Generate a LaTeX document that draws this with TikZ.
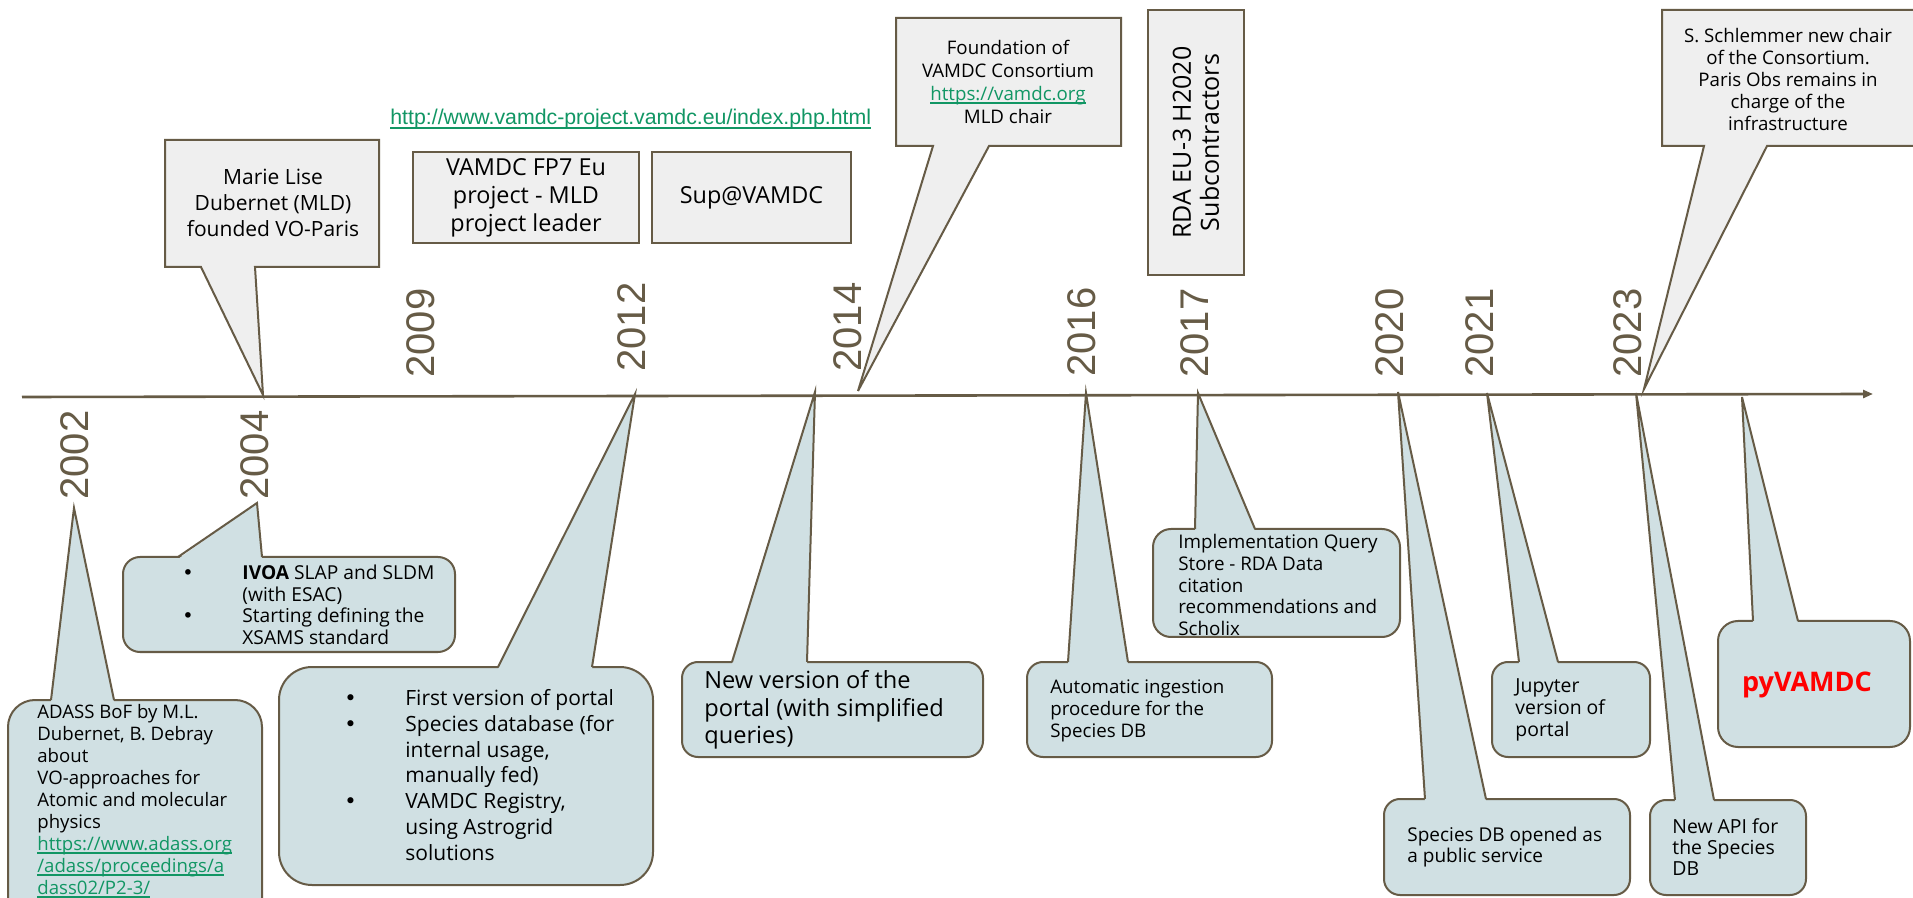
\documentclass[tikz,border=0pt]{standalone}
\usepackage{fontspec}
\setmainfont{Open Sans}
\newfontfamily\arialfont{Liberation Sans}
\newfontfamily\dejafont{DejaVu Sans}
\usetikzlibrary{arrows.meta}

\definecolor{tlbrown}{RGB}{102,91,70}
\definecolor{topgrey}{RGB}{239,239,239}
\definecolor{lowblue}{RGB}{208,224,227}
\definecolor{linkgreen}{RGB}{17,150,100}

\tikzset{
  topbox/.style={draw=tlbrown, fill=topgrey, line width=1pt},
  lowbox/.style={draw=tlbrown, fill=lowblue, line width=1pt},
  yearlabel/.style={font=\arialfont\fontsize{20}{24}\selectfont, text=tlbrown,
    rotate=90, anchor=west, inner sep=0pt},
  boxtext/.style={align=center, inner sep=0pt},
  notetext/.style={align=left, anchor=west, inner sep=0pt},
}

% grey box with its pointer hanging down to the axis
\newcommand{\downcall}[7]{%
  \filldraw[topbox] (#1,#2) -- (#3,#2) -- (#3,#4) -- (#6,#4) -- (#7) -- (#5,#4) -- (#1,#4) -- cycle;}
% rounded blue box with its pointer going up to the axis
\newcommand{\upcall}[8][8pt]{%
  \filldraw[lowbox, rounded corners=#1] (#2,#3) rectangle (#4,#5);
  \fill[lowblue] (#6,#3+2) -- (#8) -- (#7,#3+2) -- cycle;
  \draw[tlbrown, line width=1pt] (#6,#3) -- (#8) -- (#7,#3);}
\newcommand{\lnk}[1]{{\color{linkgreen}\setbox0=\hbox{#1}\rlap{\rule[-0.17em]{\wd0}{0.08em}}\box0}}
\newcommand{\bul}[1]{\makebox[#1][l]{\dejafont\textbullet}}

\begin{document}
\begin{tikzpicture}[x=0.5pt, y=-0.5pt]

  \fill[white, use as bounding box] (0,0) rectangle (1913,898);
  \clip (0,0) rectangle (1913,898);

  % time axis
  \coordinate (axstart) at (22,397);
  \coordinate (axend) at (1873,394);
  \draw[tlbrown, line width=1.3pt, -{Triangle[length=5pt,width=4pt]}] (axstart) -- (axend);

  % pointer tips on the axis
  \coordinate (t02) at (74,508);
  \coordinate (t04lo) at (257,503);
  \coordinate (t04up) at (263,395);
  \coordinate (t12) at (635,394);
  \coordinate (t14lo) at (815,392);
  \coordinate (t14up) at (858,391);
  \coordinate (t16) at (1086,393);
  \coordinate (t17) at (1198,393);
  \coordinate (t20) at (1398,392);
  \coordinate (t21) at (1487,393);
  \coordinate (t23up) at (1644,389);
  \coordinate (t23lo) at (1636,393);
  \coordinate (tpy) at (1742,397);

  % years
  \node[yearlabel] (y2002) at (75,500) {2002};
  \node[yearlabel] (y2004) at (255,500) {2004};
  \node[yearlabel] (y2009) at (421,378) {2009};
  \node[yearlabel] (y2012) at (632,372) {2012};
  \node[yearlabel] (y2014) at (848,372) {2014};
  \node[yearlabel] (y2016) at (1082,377) {2016};
  \node[yearlabel] (y2017) at (1195,378) {2017};
  \node[yearlabel] (y2020) at (1390,378) {2020};
  \node[yearlabel] (y2021) at (1480,378) {2021};
  \node[yearlabel] (y2023) at (1628,378) {2023};

  % above the axis
  \downcall{165}{140}{379}{267}{201}{255}{t04up}
  \node[boxtext, font=\fontsize{10.5}{13}\selectfont] (marie) at (273,203)
    {Marie Lise\\ Dubernet (MLD)\\ founded VO-Paris};

  \node[topbox, boxtext, minimum width=113pt, minimum height=45.5pt,
    font=\fontsize{11.7}{14}\selectfont] (fp7) at (526,197.5)
    {VAMDC FP7 Eu\\ project - MLD\\ project leader};
  \node[topbox, boxtext, minimum width=99.5pt, minimum height=45.5pt,
    font=\fontsize{11.7}{14}\selectfont] (sup) at (751.5,197.5) {Sup@VAMDC};
  \node[inner sep=0pt, anchor=base west, font=\arialfont\fontsize{10.65}{12}\selectfont]
    (url) at (390,125) {\lnk{http://www.vamdc-project.vamdc.eu/index.php.html}};

  \downcall{896}{18}{1121}{146}{933}{989}{t14up}
  \node[boxtext, font=\fontsize{9.35}{11.5}\selectfont] (found) at (1008,82)
    {Foundation of\\ VAMDC Consortium\\ \lnk{https://vamdc.org}\\ MLD chair};

  \node[topbox, boxtext, rotate=90, minimum width=132.5pt, minimum height=48pt,
    font=\fontsize{12.5}{14}\selectfont] (rda) at (1196,142.5)
    {RDA EU-3 H2020\\ Subcontractors};

  \downcall{1662}{10}{1925}{146}{1704}{1767}{t23up}
  \node[boxtext, font=\fontsize{9.35}{11}\selectfont] (chair) at (1788,79)
    {S. Schlemmer new chair\\ of the Consortium.\\ Paris Obs remains in\\ charge of the\\ infrastructure};

  % below the axis
  \upcall[13.5pt]{8}{700}{262}{930}{51}{114}{t02}
  \node[notetext, font=\fontsize{9.3}{11}\selectfont] (adass) at (37,801)
    {ADASS BoF by M.L.\\ Dubernet, B. Debray\\ about\\ VO-approaches for\\ Atomic and molecular\\ physics\\
     \lnk{https://www.adass.org}\\ \lnk{/adass/proceedings/a}\\ \lnk{dass02/P2-3/}};

  \upcall[8.5pt]{123}{557}{455}{652}{178}{262}{t04lo}
  \node[notetext, font=\fontsize{9.6}{10.8}\selectfont] (ivoa) at (182,605)
    {\bul{30pt}\textbf{IVOA} SLAP and SLDM\\ \hspace*{30pt}(with ESAC)\\
     \bul{30pt}Starting defining the\\ \hspace*{30pt}XSAMS standard};

  \upcall[16.5pt]{279}{667}{653}{885}{498}{592}{t12}
  \node[notetext, font=\fontsize{10.5}{12.9}\selectfont] (first) at (344,775)
    {\bul{30.5pt}First version of portal\\ \bul{30.5pt}Species database (for\\
     \hspace*{30.5pt}internal usage,\\ \hspace*{30.5pt}manually fed)\\
     \bul{30.5pt}VAMDC Registry,\\ \hspace*{30.5pt}using Astrogrid\\ \hspace*{30.5pt}solutions};

  \upcall{682}{662}{983}{757}{732}{807}{t14lo}
  \node[notetext, font=\fontsize{11.8}{13.75}\selectfont] (newver) at (704,710)
    {New version of the\\ portal (with simplified\\ queries)};

  \upcall{1027}{662}{1272}{757}{1068}{1128}{t16}
  \node[notetext, font=\fontsize{9.35}{11}\selectfont] (ingest) at (1050,711)
    {Automatic ingestion\\ procedure for the\\ Species DB};

  \upcall[9pt]{1153}{529}{1400}{637}{1195}{1255}{t17}
  \node[notetext, font=\fontsize{9.4}{10.8}\selectfont] (query) at (1178,585)
    {Implementation Query\\ Store - RDA Data\\ citation\\ recommendations and\\ Scholix};

  \upcall{1384}{799}{1630}{895}{1425}{1486}{t20}
  \node[notetext, font=\fontsize{9.5}{10.6}\selectfont] (opened) at (1407,847)
    {Species DB opened as\\ a public service};

  \upcall{1492}{662}{1650}{757}{1519}{1558}{t21}
  \node[notetext, font=\fontsize{9.7}{10.8}\selectfont] (jupyter) at (1515,710)
    {Jupyter\\ version of\\ portal};

  \upcall{1650}{800}{1806}{895}{1675}{1714}{t23lo}
  \node[notetext, font=\fontsize{9.7}{10.6}\selectfont] (api) at (1672,847)
    {New API for\\ the Species\\ DB};

  \upcall[10pt]{1718}{621}{1910}{747}{1753}{1798}{tpy}
  \node[inner sep=0pt, text=red, font=\bfseries\fontsize{13.5}{15}\selectfont] (pyv) at (1807,685) {pyVAMDC};

\end{tikzpicture}
\end{document}
